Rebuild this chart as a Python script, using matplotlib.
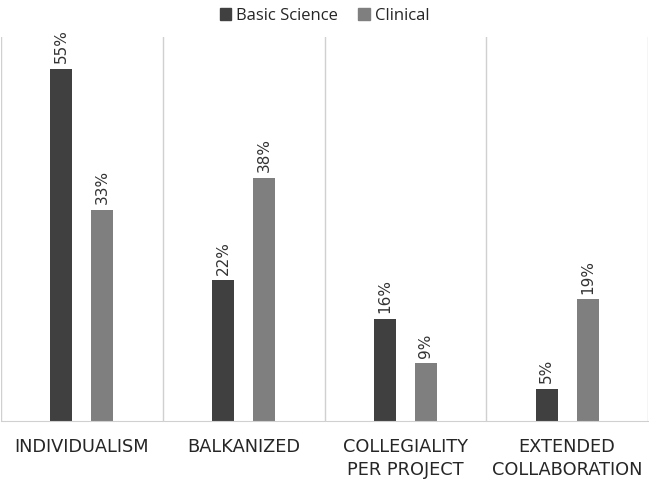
import matplotlib
matplotlib.use("Agg")
import matplotlib.pyplot as plt
from matplotlib.patches import Patch
import numpy as np

categories = ["INDIVIDUALISM", "BALKANIZED", "COLLEGIALITY\nPER PROJECT", "EXTENDED\nCOLLABORATION"]
series_names = ["Basic Science", "Clinical"]
basic = [55, 22, 16, 5]
clinical = [33, 38, 9, 19]
colors = ["#404040", "#7f7f7f"]

plt.rcParams['font.family'] = ['Open Sans', 'DejaVu Sans']

fig = plt.figure(figsize=(6.49, 4.79), dpi=100)
ax = fig.add_axes([1/649, 58/479, 647/649, 384/479])

x = np.arange(len(categories))
w = 0.135
off = 0.127
b1 = ax.bar(x - off, basic, w, color=colors[0])
b2 = ax.bar(x + off, clinical, w, color=colors[1])

for bars, vals in ((b1, basic), (b2, clinical)):
    for r, v in zip(bars, vals):
        ax.annotate(f"{v}%", (r.get_x() + r.get_width()/2, r.get_height()),
                    xytext=(0, 4), textcoords="offset points", rotation=90,
                    ha="center", va="bottom", fontsize=11, color="#333333",
                    family="DejaVu Sans")

ax.set_xlim(-0.5, len(categories) - 0.5)
ax.set_ylim(0, 60)
for b in np.arange(-0.5, len(categories), 1.0):
    ax.axvline(b, color="#d0d0d0", lw=1, zorder=0)

for s in ["top", "left", "right"]:
    ax.spines[s].set_visible(False)
ax.spines["bottom"].set_color("#d0d0d0")
ax.set_yticks([])
ax.set_xticks(x)
ax.set_xticklabels(categories, fontsize=12.8, color="#262626", linespacing=1.35,
                   family="DejaVu Sans")
ax.tick_params(axis="x", length=0, pad=12)

handles = [Patch(color=c) for c in colors]
fig.legend(handles, series_names, loc="upper center", bbox_to_anchor=(0.5, 1.015),
           ncol=2, frameon=False, fontsize=12, handlelength=0.7, handleheight=0.7,
           handletextpad=0.3, columnspacing=1.2, labelcolor="#262626")

fig.savefig("out.png", dpi=100)
